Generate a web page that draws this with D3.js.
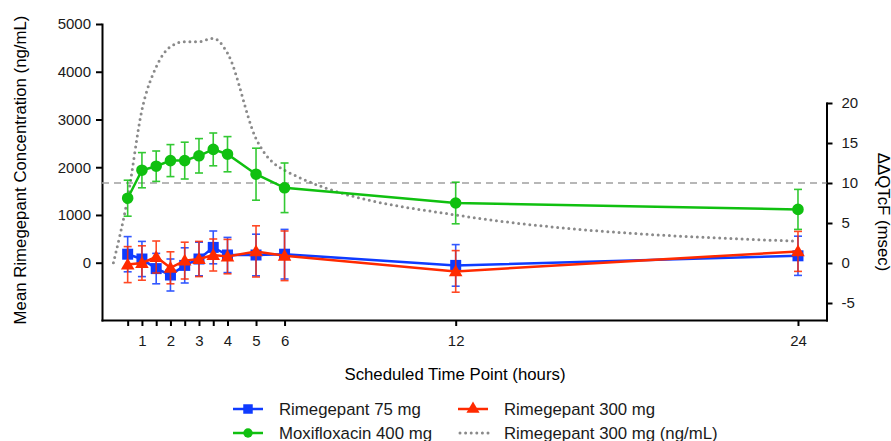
<!DOCTYPE html>
<html>
<head>
<meta charset="utf-8">
<script src="https://cdn.jsdelivr.net/npm/d3@7"></script>
<style>
  body { margin: 0; background: #fff; }
  svg { font-family: "Liberation Sans", Arial, sans-serif; }
  .axis path, .axis line { stroke: #000; stroke-width: 2; }
  .axis text { font-size: 15px; fill: #1a1a1a; }
</style>
</head>
<body>
<svg id="chart" width="891" height="441"></svg>
<script>
// scheduled time points (hours)
const hours = [0.5, 1, 1.5, 2, 2.5, 3, 3.5, 4, 5, 6, 12, 24];
const xTicks = [0.5, 1, 1.5, 2, 2.5, 3, 3.5, 4, 5, 6, 12, 24];
const xLabels = [1, 2, 3, 4, 5, 6, 12, 24];

// ddQTcF (msec), right axis
const rime75 = [1.1, 0.5, -0.7, -1.5, -0.3, 0.5, 1.95, 1.0, 1.0, 1.1, -0.3, 0.9];
const rime75Err = [2.2, 2.2, 1.9, 2.0, 2.2, 2.1, 2.05, 2.2, 2.6, 3.1, 2.6, 2.45];
const rime300 = [-0.2, 0.0, 0.75, -0.6, 0.3, 0.5, 1.0, 0.8, 1.45, 0.9, -1.05, 1.45];
const rime300Err = [2.25, 2.15, 2.0, 2.0, 2.3, 2.2, 2.0, 2.15, 3.2, 3.1, 2.6, 2.5];
const moxi = [8.1, 11.6, 12.1, 12.8, 12.8, 13.4, 14.2, 13.6, 11.1, 9.4, 7.5, 6.7];
const moxiErr = [2.25, 2.2, 1.9, 2.0, 2.3, 2.15, 2.05, 2.2, 3.25, 3.1, 2.6, 2.5];
const qtLimit = 10;

// rimegepant 300 mg concentration (ng/mL), left axis
const pkHours = [0, 0.5, 1, 1.5, 2, 2.5, 3, 3.5, 4, 5, 6, 12, 24];
const pkConc = [0, 1355, 3200, 4100, 4525, 4630, 4630, 4700, 4390, 2600, 1935, 1000, 450];

const leftTicks = [0, 1000, 2000, 3000, 4000, 5000];
const rightTicks = [-5, 0, 5, 10, 15, 20];

const BLUE = '#0f3bff', RED = '#ff2a00', GREEN = '#10c010', GRAY = '#8a8a8a';

const svg = d3.select('#chart');

const x = d3.scaleLinear().domain([-0.4, 25]).range([102, 826.5]);
const yL = d3.scaleLinear().domain([-1200, 5000]).range([320, 24]);
const yR = d3.scaleLinear().domain([-7.125, 20]).range([320, 103]);

// axes
svg.append('g').attr('class', 'axis')
  .attr('transform', 'translate(102,0)')
  .call(d3.axisLeft(yL).tickValues(leftTicks).tickSize(6).tickSizeOuter(0).tickPadding(5)
    .tickFormat(d => String(d)));

svg.append('g').attr('class', 'axis')
  .attr('transform', 'translate(826.5,0)')
  .call(d3.axisRight(yR).tickValues(rightTicks).tickSize(6).tickSizeOuter(0).tickPadding(9)
    .tickFormat(d => String(d)));

svg.append('g').attr('class', 'axis')
  .attr('transform', 'translate(0,320)')
  .call(d3.axisBottom(x).tickValues(xTicks).tickSize(6).tickSizeOuter(0).tickPadding(9)
    .tickFormat(d => xLabels.includes(d) ? String(d) : ''));

svg.selectAll('.axis .domain').attr('stroke-linecap', 'square');

// axis titles
svg.append('text')
  .attr('transform', 'translate(26,170) rotate(-90)')
  .attr('text-anchor', 'middle')
  .style('font-size', '16.8px')
  .text('Mean Rimegepant Concentration (ng/mL)');

svg.append('text')
  .attr('transform', 'translate(878,212) rotate(90)')
  .attr('text-anchor', 'middle')
  .style('font-size', '16.8px')
  .text('ΔΔQTcF (msec)');

svg.append('text')
  .attr('x', 455).attr('y', 380)
  .attr('text-anchor', 'middle')
  .style('font-size', '16.8px')
  .text('Scheduled Time Point (hours)');

// threshold line
svg.append('line')
  .attr('x1', x.range()[0]).attr('x2', x.range()[1])
  .attr('y1', yR(qtLimit)).attr('y2', yR(qtLimit))
  .attr('stroke', '#a0a0a0').attr('stroke-width', 1.5)
  .attr('stroke-dasharray', '7,5');

// concentration curve
const pk = pkHours.map((h, i) => [h, pkConc[i]]);
svg.append('path')
  .attr('d', d3.line().x(d => x(d[0])).y(d => yL(d[1])).curve(d3.curveMonotoneX)(pk))
  .attr('fill', 'none').attr('stroke', GRAY).attr('stroke-width', 3)
  .attr('stroke-linecap', 'round').attr('stroke-dasharray', '0,5.6');

const sym = {
  square: d3.symbol().type(d3.symbolSquare).size(121),
  circle: d3.symbol().type(d3.symbolCircle).size(105),
  triangle: d3.symbol().type(d3.symbolTriangle).size(80)
};

function drawSeries(vals, errs, color, shape) {
  const pts = hours.map((h, i) => ({h, v: vals[i], e: errs[i]}));
  const g = svg.append('g');
  g.append('path')
    .attr('d', d3.line().x(d => x(d.h)).y(d => yR(d.v))(pts))
    .attr('fill', 'none').attr('stroke', color).attr('stroke-width', 2.5);
  const eb = g.selectAll('.eb').data(pts).enter().append('g')
    .attr('stroke', color).attr('stroke-width', 1.6).attr('opacity', 0.85);
  eb.append('line')
    .attr('x1', d => x(d.h)).attr('x2', d => x(d.h))
    .attr('y1', d => yR(d.v - d.e)).attr('y2', d => yR(d.v + d.e));
  eb.append('line')
    .attr('x1', d => x(d.h) - 4).attr('x2', d => x(d.h) + 4)
    .attr('y1', d => yR(d.v + d.e)).attr('y2', d => yR(d.v + d.e));
  eb.append('line')
    .attr('x1', d => x(d.h) - 4).attr('x2', d => x(d.h) + 4)
    .attr('y1', d => yR(d.v - d.e)).attr('y2', d => yR(d.v - d.e));
  g.selectAll('.mk').data(pts).enter().append('path')
    .attr('d', sym[shape])
    .attr('transform', d => `translate(${x(d.h)},${yR(d.v) + (shape === 'triangle' ? 1 : 0)})`)
    .attr('fill', color);
}

drawSeries(moxi, moxiErr, GREEN, 'circle');
drawSeries(rime75, rime75Err, BLUE, 'square');
drawSeries(rime300, rime300Err, RED, 'triangle');

// legend
const legend = [
  {label: 'Rimegepant 75 mg', color: BLUE, shape: 'square', x: 233, y: 409},
  {label: 'Rimegepant 300 mg', color: RED, shape: 'triangle', x: 458, y: 409},
  {label: 'Moxifloxacin 400 mg', color: GREEN, shape: 'circle', x: 233, y: 433},
  {label: 'Rimegepant 300 mg (ng/mL)', color: GRAY, shape: null, x: 458, y: 433}
];
const lg = svg.append('g').selectAll('g').data(legend).enter().append('g')
  .attr('transform', d => `translate(${d.x},${d.y})`);
lg.append('line')
  .attr('x1', 0).attr('x2', 30).attr('y1', 0).attr('y2', 0)
  .attr('stroke', d => d.color)
  .attr('stroke-width', d => d.shape ? 2.5 : 3)
  .attr('stroke-linecap', d => d.shape ? 'butt' : 'round')
  .attr('stroke-dasharray', d => d.shape ? null : '0,5.6')
  .attr('transform', d => d.shape ? null : 'translate(2,0)');
lg.filter(d => d.shape).append('path')
  .attr('d', d => d3.symbol().type(
    d.shape === 'square' ? d3.symbolSquare : d.shape === 'circle' ? d3.symbolCircle : d3.symbolTriangle)
    .size(d.shape === 'square' ? 90 : d.shape === 'circle' ? 70 : 75)())
  .attr('transform', 'translate(15,0)')
  .attr('fill', d => d.color);
lg.append('text')
  .attr('x', 46).attr('y', 6)
  .style('font-size', '16.8px')
  .attr('fill', '#1a1a1a')
  .text(d => d.label);
</script>
</body>
</html>
